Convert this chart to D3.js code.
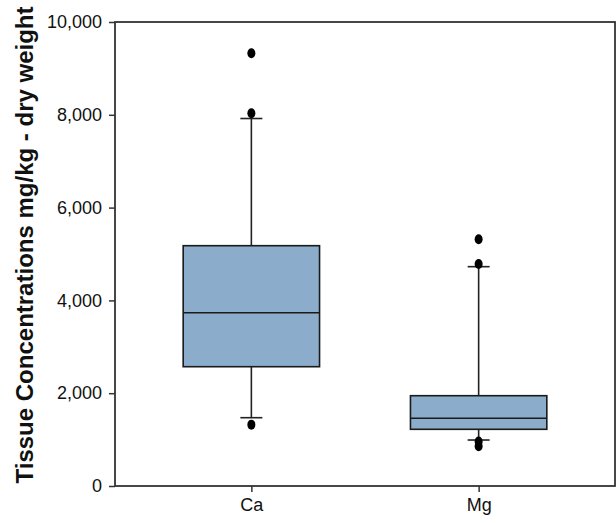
<!DOCTYPE html>
<html><head><meta charset="utf-8">
<script src="https://cdn.jsdelivr.net/npm/d3@7"></script>
<style>body{margin:0;background:#fff;} svg{display:block;}</style>
</head><body>
<svg id="chart" width="616" height="523"></svg>
<script>
const categories = ["Ca", "Mg"];
const q1 = [2571, 1222];
const median = [3735, 1459];
const q3 = [5179, 1946];
const whiskerLow = [1472, 991];
const whiskerHigh = [7920, 4727];
const outliers = [[9325, 8032, 1322], [5316, 4784, 960, 855]];
const yTicks = [0, 2000, 4000, 6000, 8000, 10000];
const yLabel = "Tissue Concentrations mg/kg - dry weight";

const svg = d3.select("#chart");
const L = 115, R = 615, T = 22, B = 486;
const x = d3.scalePoint().domain(categories).range([L, R]).padding(0.6);
const y = d3.scaleLinear().domain([0, 10000]).range([B, T]);
const boxW = x.step() * 0.6;
const capW = 22;
const fill = "#8BADCB";

const data = categories.map((c, i) => ({c, q1: q1[i], med: median[i], q3: q3[i], lo: whiskerLow[i], hi: whiskerHigh[i], out: outliers[i]}));

const g = svg.append("g");
data.forEach(d => {
  const cx = x(d.c);
  g.append("line").attr("x1", cx).attr("x2", cx).attr("y1", y(d.q3)).attr("y2", y(d.hi)).attr("stroke", "#222").attr("stroke-width", 1.6);
  g.append("line").attr("x1", cx).attr("x2", cx).attr("y1", y(d.q1)).attr("y2", y(d.lo)).attr("stroke", "#222").attr("stroke-width", 1.6);
  g.append("line").attr("x1", cx - capW/2).attr("x2", cx + capW/2).attr("y1", y(d.hi)).attr("y2", y(d.hi)).attr("stroke", "#222").attr("stroke-width", 1.6);
  g.append("line").attr("x1", cx - capW/2).attr("x2", cx + capW/2).attr("y1", y(d.lo)).attr("y2", y(d.lo)).attr("stroke", "#222").attr("stroke-width", 1.6);
  g.append("rect").attr("x", cx - boxW/2).attr("y", y(d.q3)).attr("width", boxW).attr("height", y(d.q1) - y(d.q3))
    .attr("fill", fill).attr("stroke", "#1a1a1a").attr("stroke-width", 1.6);
  g.append("line").attr("x1", cx - boxW/2).attr("x2", cx + boxW/2).attr("y1", y(d.med)).attr("y2", y(d.med)).attr("stroke", "#1a1a1a").attr("stroke-width", 1.6);
  d.out.forEach(v => {
    g.append("ellipse").attr("cx", cx).attr("cy", y(v)).attr("rx", 4).attr("ry", 5).attr("fill", "#000");
  });
});

svg.append("rect").attr("x", L).attr("y", T).attr("width", R - L).attr("height", B - T)
  .attr("fill", "none").attr("stroke", "#333").attr("stroke-width", 1.8);

const ya = svg.append("g").attr("transform", `translate(${L},0)`)
  .call(d3.axisLeft(y).tickValues(yTicks).tickFormat(d3.format(",")).tickSize(6).tickPadding(7));
ya.select(".domain").remove();
ya.selectAll("line").attr("stroke", "#333").attr("stroke-width", 1.5);
ya.selectAll("text").attr("font-family", "Liberation Sans, Arial, sans-serif").attr("font-size", 18).attr("fill", "#111");

const xa = svg.append("g").attr("transform", `translate(0,${B})`)
  .call(d3.axisBottom(x).tickSize(6).tickPadding(6));
xa.select(".domain").remove();
xa.selectAll("line").attr("stroke", "#333").attr("stroke-width", 1.5);
xa.selectAll("text").attr("font-family", "Liberation Sans, Arial, sans-serif").attr("font-size", 18).attr("fill", "#111");

svg.append("text").attr("transform", `translate(33,245) rotate(-90)`)
  .attr("text-anchor", "middle").attr("font-family", "Liberation Sans, Arial, sans-serif")
  .attr("font-weight", "bold").attr("font-size", 24).attr("fill", "#111").text(yLabel);
</script>
</body></html>
